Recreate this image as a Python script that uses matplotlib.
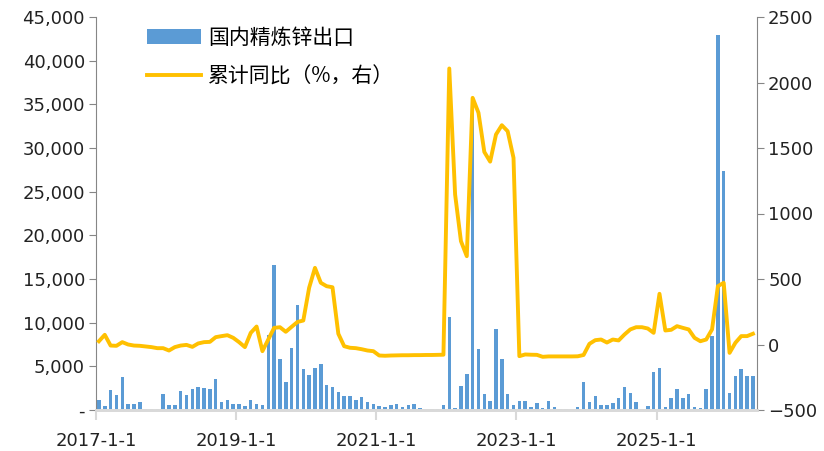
import matplotlib
matplotlib.use('Agg')
import matplotlib.pyplot as plt
from matplotlib.ticker import FuncFormatter
import numpy as np
import pandas as pd

# monthly data, 2017-01 .. 2026-05
months = pd.date_range('2017-01-01', periods=113, freq='MS')

export_vol = [
    1200, 500, 2320, 1700, 3800, 700, 700, 870, 150, 150, 170, 1800,
    620, 620, 2150, 1730, 2430, 2600, 2500, 2350, 3570, 900, 1200, 670,
    670, 480, 1090, 630, 520, 8600, 16550, 5860, 3150, 7080, 12040, 4710,
    3990, 4790, 5290, 2880, 2690, 2040, 1620, 1550, 1160, 1470, 860, 740,
    440, 400, 590, 740, 360, 520, 700, 250, 50, 130, 130, 590,
    10700, 210, 2800, 4140, 35500, 6930, 1850, 1050, 9300, 5790, 1850, 520,
    1010, 1010, 290, 820, 210, 1050, 320, 130, 130, 30, 320, 3190,
    970, 1550, 590, 590, 820, 1320, 2690, 2000, 940, 130, 440, 4370,
    4790, 360, 1390, 2420, 1350, 1850, 400, 250, 2420, 8530, 42960, 27420,
    1970, 3840, 4710, 3950, 3950,
]

yoy_cum = [
    25, 74, -8, -10, 18, 0, -8, -10, -15, -20, -28, -28,
    -46, -20, -8, -3, -18, 8, 18, 20, 56, 64, 71, 51,
    18, -20, 89, 137, -51, 38, 127, 132, 97, 135, 172, 183,
    433, 585, 471, 445, 437, 82, -13, -25, -28, -36, -46, -51,
    -84, -86, -84, -83, -82, -82, -81, -81, -80, -80, -79, -78,
    2107, 1145, 789, 674, 1883, 1769, 1470, 1396, 1603, 1674, 1628, 1425,
    -89, -76, -78, -79, -94, -91, -91, -91, -91, -91, -90, -80,
    5, 33, 38, 15, 38, 31, 76, 115, 132, 132, 122, 89,
    387, 107, 112, 140, 127, 115, 51, 25, 38, 115, 445, 471,
    -64, 13, 64, 64, 82,
]

tick_years = [2017, 2019, 2021, 2023, 2025]

plt.rcParams['font.family'] = ['DejaVu Sans', 'Noto Sans CJK SC']
cjk = ['Noto Sans CJK SC', 'DejaVu Sans']

x = np.arange(len(months))

fig = plt.figure(figsize=(8.24, 4.51), dpi=100)
ax = fig.add_axes([96/824, 1 - 410/451, (757 - 96)/824, (410 - 17)/451])
ax2 = ax.twinx()

bars = ax.bar(x, export_vol, width=0.6, color='#5B9BD5', label='国内精炼锌出口')
line, = ax2.plot(x, yoy_cum, color='#FFC000', lw=2.8, label='累计同比（%，右）')

ax.set_xlim(-0.5, 112.7)
ax.set_ylim(0, 45000)
ax.set_yticks(np.arange(0, 45001, 5000))
ax.yaxis.set_major_formatter(FuncFormatter(lambda v, p: '-' if v == 0 else f'{int(v):,}'))
ax2.set_ylim(-500, 2500)
ax2.set_yticks(np.arange(-500, 2501, 500))

# x ticks at the start of every second year
tick_pos = [months.get_loc(pd.Timestamp(f'{y}-01-01')) - 0.5 for y in tick_years]
ax.set_xticks(tick_pos)
ax.set_xticklabels([f'{y}-1-1' for y in tick_years])

for a in (ax, ax2):
    a.spines['top'].set_visible(False)
    a.spines['bottom'].set_color('#D9D9D9')
    a.spines['bottom'].set_linewidth(2)
ax.spines['left'].set_color('#868686')
ax.spines['right'].set_visible(False)
ax2.spines['left'].set_visible(False)
ax2.spines['right'].set_color('#868686')

ax.tick_params(axis='y', direction='out', length=5, color='#868686', labelsize=13, pad=3, labelcolor='#222222')
ax2.tick_params(axis='y', direction='out', length=5, color='#868686', labelsize=13, pad=3, labelcolor='#222222')
ax.tick_params(axis='x', direction='out', length=7, width=1.5, color='#D9D9D9', labelsize=13, pad=9, labelcolor='#222222')

leg = ax2.legend([bars, line], ['国内精炼锌出口', '累计同比（%，右）'],
                 loc='upper left', bbox_to_anchor=(147/824, 1 - 27/451),
                 bbox_transform=fig.transFigure, frameon=False,
                 prop={'family': cjk, 'size': 15}, handlelength=2.6,
                 handleheight=0.75, handletextpad=0.35, labelspacing=0.8,
                 borderpad=0, borderaxespad=0)

fig.savefig('out.png', dpi=100)
